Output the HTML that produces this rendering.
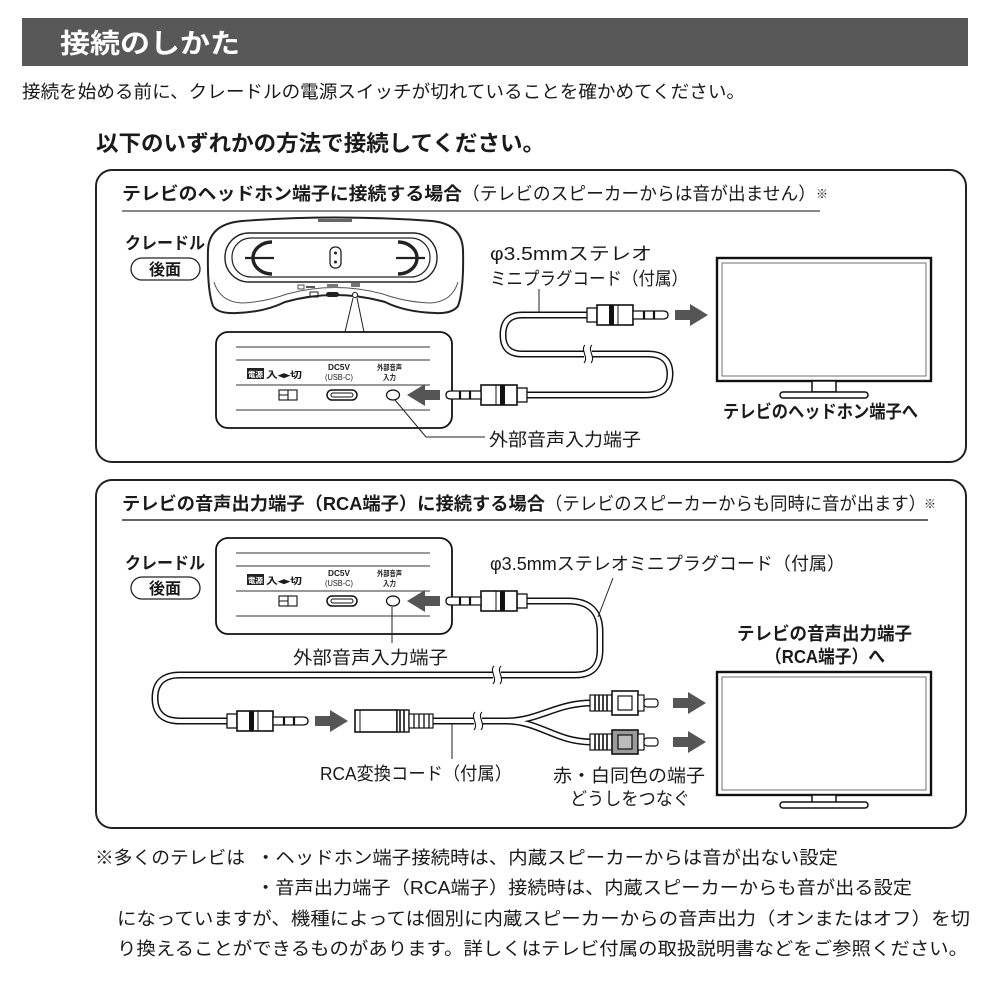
<!DOCTYPE html>
<html lang="ja">
<head>
<meta charset="utf-8">
<style>
  html,body{margin:0;padding:0;background:#fff;}
  svg{display:block;}
  text{font-family:"Liberation Sans","Noto Sans CJK JP",sans-serif;fill:#1a1a1a;}
  .b{font-weight:bold;}
</style>
</head>
<body>
<svg width="1000" height="1000" viewBox="0 0 1000 1000" xmlns="http://www.w3.org/2000/svg">
  <defs>
    <g id="p35">
      <rect x="0" y="-7" width="10" height="14" fill="#fff" stroke="#111" stroke-width="1.3"/>
      <rect x="10" y="-10" width="36" height="20" fill="#fff" stroke="#111" stroke-width="1.6"/>
      <rect x="22" y="-10" width="5" height="20" fill="#111"/>
      <line x1="31" y1="-10" x2="31" y2="10" stroke="#111" stroke-width="1"/>
      <path d="M46,-4 H76 Q81,-4 81,0 Q81,4 76,4 H46 Z" fill="#fff" stroke="#111" stroke-width="1.3"/>
      <line x1="57" y1="-4" x2="57" y2="4" stroke="#111" stroke-width="2.2"/>
      <line x1="67" y1="-4" x2="67" y2="4" stroke="#111" stroke-width="2.2"/>
    </g>
    <path id="arr" d="M0,-5 H15 V-11 L33,0 L15,11 V5 H0 Z" fill="#555"/>
    <g id="rcaW">
      <rect x="0" y="-8" width="22" height="16" fill="#fff" stroke="#111" stroke-width="1.2"/>
      <line x1="5" y1="-8" x2="5" y2="8" stroke="#111" stroke-width="1.6"/>
      <line x1="9" y1="-8" x2="9" y2="8" stroke="#111" stroke-width="1.6"/>
      <line x1="13" y1="-8" x2="13" y2="8" stroke="#111" stroke-width="1.6"/>
      <line x1="17" y1="-8" x2="17" y2="8" stroke="#111" stroke-width="1.6"/>
      <rect x="22" y="-12" width="26" height="24" fill="#fff" stroke="#111" stroke-width="1.6"/>
      <rect x="28" y="-7" width="14" height="14" fill="none" stroke="#111" stroke-width="1.2"/>
      <rect x="48" y="-8" width="6" height="16" fill="#fff" stroke="#111" stroke-width="1.2"/>
      <rect x="54" y="-4" width="14" height="8" rx="3" fill="#fff" stroke="#111" stroke-width="1.2"/>
    </g>
    <g id="rcaR">
      <rect x="0" y="-8" width="22" height="16" fill="#fff" stroke="#111" stroke-width="1.2"/>
      <line x1="5" y1="-8" x2="5" y2="8" stroke="#111" stroke-width="1.6"/>
      <line x1="9" y1="-8" x2="9" y2="8" stroke="#111" stroke-width="1.6"/>
      <line x1="13" y1="-8" x2="13" y2="8" stroke="#111" stroke-width="1.6"/>
      <line x1="17" y1="-8" x2="17" y2="8" stroke="#111" stroke-width="1.6"/>
      <rect x="22" y="-12" width="26" height="24" fill="#9a9a9a" stroke="#111" stroke-width="1.6"/>
      <rect x="28" y="-7" width="14" height="14" fill="#bbb" stroke="#111" stroke-width="1.2"/>
      <rect x="48" y="-8" width="6" height="16" fill="#fff" stroke="#111" stroke-width="1.2"/>
      <rect x="54" y="-4" width="14" height="8" rx="3" fill="#fff" stroke="#111" stroke-width="1.2"/>
    </g>
    <g id="callout">
      <rect x="216" y="332" width="236" height="96" rx="12" fill="#fff" stroke="#111" stroke-width="1.8"/>
      <line x1="236" y1="347" x2="430" y2="347" stroke="#333" stroke-width="1"/>
      <line x1="236" y1="360" x2="430" y2="360" stroke="#333" stroke-width="1"/>
      <line x1="236" y1="385" x2="430" y2="385" stroke="#333" stroke-width="1"/>
      <line x1="236" y1="410" x2="430" y2="410" stroke="#333" stroke-width="1"/>
      <rect x="247" y="368" width="17" height="11" fill="#222"/>
      <text x="248" y="377" font-size="7.5" class="b" style="fill:#fff" textLength="15" lengthAdjust="spacingAndGlyphs">電源</text>
      <text x="266" y="378" font-size="9" class="b" textLength="36" lengthAdjust="spacingAndGlyphs">入◂▸切</text>
      <text x="328" y="370" font-size="8" class="b" textLength="22" lengthAdjust="spacingAndGlyphs">DC5V</text>
      <text x="325" y="380" font-size="8" textLength="28" lengthAdjust="spacingAndGlyphs">(USB-C)</text>
      <text x="377" y="370" font-size="7.5" class="b" textLength="25" lengthAdjust="spacingAndGlyphs">外部音声</text>
      <text x="383" y="380" font-size="7.5" class="b" textLength="13" lengthAdjust="spacingAndGlyphs">入力</text>
      <rect x="279" y="390" width="18" height="10" fill="#fff" stroke="#111" stroke-width="1.1"/>
      <line x1="288" y1="390" x2="288" y2="400" stroke="#111" stroke-width="1.1"/>
      <line x1="279" y1="395" x2="288" y2="395" stroke="#111" stroke-width="1"/>
      <rect x="327" y="390" width="30" height="10" rx="5" fill="#fff" stroke="#111" stroke-width="1.5"/>
      <rect x="331" y="393" width="22" height="4" rx="2" fill="none" stroke="#111" stroke-width="1"/>
      <ellipse cx="393" cy="395" rx="6.5" ry="5" fill="#fff" stroke="#111" stroke-width="1.3"/>
    </g>
  </defs>

  <!-- Header -->
  <rect x="22" y="18" width="946" height="48" fill="#585858"/>
  <text x="60" y="53" font-size="27" class="b" style="fill:#fff" textLength="180" lengthAdjust="spacingAndGlyphs">接続のしかた</text>
  <text x="22" y="98" font-size="18" textLength="723" lengthAdjust="spacingAndGlyphs">接続を始める前に、クレードルの電源スイッチが切れていることを確かめてください。</text>
  <text x="96" y="151" font-size="22" class="b" textLength="449" lengthAdjust="spacingAndGlyphs">以下のいずれかの方法で接続してください。</text>

  <!-- Panel 1 -->
  <rect x="96" y="170" width="870" height="292" rx="16" fill="none" stroke="#222" stroke-width="2"/>
  <text x="122" y="200" font-size="18" class="b" textLength="340" lengthAdjust="spacingAndGlyphs">テレビのヘッドホン端子に接続する場合</text>
  <text x="462" y="200" font-size="18" textLength="354" lengthAdjust="spacingAndGlyphs">（テレビのスピーカーからは音が出ません）</text>
  <text x="816" y="198" font-size="12" textLength="12" lengthAdjust="spacingAndGlyphs">※</text>
  <line x1="122" y1="211" x2="820" y2="211" stroke="#777" stroke-width="1.8"/>

  <text x="125" y="249" font-size="17" class="b" textLength="80" lengthAdjust="spacingAndGlyphs">クレードル</text>
  <rect x="131" y="258" width="69" height="22" rx="11" fill="#fff" stroke="#222" stroke-width="1.3"/>
  <text x="149" y="275" font-size="16" class="b" textLength="32" lengthAdjust="spacingAndGlyphs">後面</text>

  <!-- Cradle -->
  <path d="M242,221 Q335,214 432,221 Q462,224 463,250 Q464,290 458,306 Q452,314 435,313 Q405,312 385,302 Q335,288 285,302 Q265,312 237,313 Q218,314 213,306 Q207,290 208,250 Q209,224 242,221 Z" fill="#fff" stroke="#222" stroke-width="2"/>
  <path d="M214,282 Q220,302 242,303 Q265,302 287,294 Q335,281 383,294 Q405,302 430,303 Q452,302 458,282" fill="none" stroke="#555" stroke-width="1"/>
  <rect x="318" y="219" width="34" height="3" fill="#666"/>
  <rect x="225" y="233" width="212" height="49" rx="24" fill="#fff" stroke="#222" stroke-width="1.4"/>
  <rect x="232" y="238" width="198" height="39" rx="19" fill="#fff" stroke="#222" stroke-width="1.2"/>
  <path d="M272,242 A19,16 0 1 0 272,274" fill="none" stroke="#222" stroke-width="3.4"/>
  <line x1="245" y1="258" x2="274" y2="258" stroke="#222" stroke-width="2.2"/>
  <path d="M398,242 A19,16 0 1 1 398,274" fill="none" stroke="#222" stroke-width="3.4"/>
  <line x1="396" y1="258" x2="425" y2="258" stroke="#222" stroke-width="2.2"/>
  <rect x="330" y="247" width="11" height="21" rx="5" fill="#fff" stroke="#222" stroke-width="1.3"/>
  <circle cx="335.5" cy="253" r="1.5" fill="#222"/>
  <circle cx="335.5" cy="262" r="1.5" fill="#222"/>
  <rect x="298" y="285" width="6" height="4" fill="none" stroke="#222" stroke-width="0.8"/>
  <rect x="306" y="286" width="9" height="2" fill="#555"/>
  <rect x="327" y="284" width="11" height="4" fill="#777"/>
  <rect x="351" y="283" width="9" height="4" fill="#777"/>
  <rect x="310" y="292" width="8" height="5" fill="none" stroke="#222" stroke-width="1"/>
  <rect x="326" y="292" width="13" height="5" rx="2.5" fill="#222"/>
  <circle cx="355" cy="295" r="2.6" fill="#fff" stroke="#222" stroke-width="1"/>
  <line x1="353" y1="298" x2="345" y2="332" stroke="#222" stroke-width="1"/>
  <line x1="357" y1="298" x2="364" y2="332" stroke="#222" stroke-width="1"/>

  <use href="#callout"/>
  <use href="#arr" transform="translate(440,395) scale(-1,1)"/>

  <!-- Panel 1 cable -->
  <path d="M527,395 L645,395 Q670,395 670,374 Q670,354 648,354 L522,354 Q503,354 503,335 Q503,315 522,315 L588,315" fill="none" stroke="#111" stroke-width="7"/>
  <path d="M527,395 L645,395 Q670,395 670,374 Q670,354 648,354 L522,354 Q503,354 503,335 Q503,315 522,315 L588,315" fill="none" stroke="#fff" stroke-width="4"/>
  <rect x="584" y="347" width="8" height="14" fill="#fff"/>
  <path d="M585,345 C580,350 589,357 584,363" fill="none" stroke="#111" stroke-width="1.1"/>
  <path d="M592,345 C587,350 596,357 591,363" fill="none" stroke="#111" stroke-width="1.1"/>
  <use href="#p35" transform="translate(587,315)"/>
  <use href="#p35" transform="translate(527,395) scale(-1,1)"/>
  <use href="#arr" transform="translate(675,315)"/>
  <line x1="539" y1="289" x2="539" y2="313" stroke="#222" stroke-width="1"/>
  <text x="490" y="260" font-size="18" textLength="162" lengthAdjust="spacingAndGlyphs">φ3.5mmステレオ</text>
  <text x="490" y="285" font-size="18" textLength="198" lengthAdjust="spacingAndGlyphs">ミニプラグコード（付属）</text>

  <polyline points="395,400 426,437 485,437" fill="none" stroke="#222" stroke-width="1"/>
  <text x="489" y="446" font-size="18" textLength="152" lengthAdjust="spacingAndGlyphs">外部音声入力端子</text>

  <!-- TV 1 -->
  <rect x="717" y="258" width="214" height="123" fill="#fff" stroke="#111" stroke-width="2.4"/>
  <rect x="722" y="263" width="204" height="113" fill="none" stroke="#888" stroke-width="1.2"/>
  <rect x="812" y="381" width="24" height="11" fill="#fff" stroke="#111" stroke-width="1.5"/>
  <rect x="780" y="392" width="88" height="6" rx="3" fill="#fff" stroke="#111" stroke-width="1.5"/>
  <text x="723" y="418" font-size="18" class="b" textLength="195" lengthAdjust="spacingAndGlyphs">テレビのヘッドホン端子へ</text>

  <!-- Panel 2 -->
  <rect x="96" y="480" width="870" height="348" rx="16" fill="none" stroke="#222" stroke-width="2"/>
  <text x="122" y="510" font-size="18" class="b" textLength="423" lengthAdjust="spacingAndGlyphs">テレビの音声出力端子（RCA端子）に接続する場合</text>
  <text x="545" y="510" font-size="18" textLength="381" lengthAdjust="spacingAndGlyphs">（テレビのスピーカーからも同時に音が出ます）</text>
  <text x="924" y="508" font-size="12" textLength="12" lengthAdjust="spacingAndGlyphs">※</text>
  <line x1="122" y1="520" x2="928" y2="520" stroke="#333" stroke-width="1.5"/>

  <text x="125" y="569" font-size="17" class="b" textLength="80" lengthAdjust="spacingAndGlyphs">クレードル</text>
  <rect x="131" y="577" width="69" height="22" rx="11" fill="#fff" stroke="#222" stroke-width="1.3"/>
  <text x="149" y="594" font-size="16" class="b" textLength="32" lengthAdjust="spacingAndGlyphs">後面</text>

  <use href="#callout" transform="translate(0,206)"/>
  <use href="#arr" transform="translate(440,601) scale(-1,1)"/>
  <line x1="392" y1="607" x2="392" y2="643" stroke="#222" stroke-width="1"/>
  <text x="293" y="664" font-size="18" textLength="155" lengthAdjust="spacingAndGlyphs">外部音声入力端子</text>

  <!-- Panel 2 cable -->
  <path d="M527,601 L568,601 Q600,601 600,632 L600,650 Q600,675 575,675 L180,675 Q155,675 155,698 Q155,721 180,721 L228,721" fill="none" stroke="#111" stroke-width="7"/>
  <path d="M527,601 L568,601 Q600,601 600,632 L600,650 Q600,675 575,675 L180,675 Q155,675 155,698 Q155,721 180,721 L228,721" fill="none" stroke="#fff" stroke-width="4"/>
  <rect x="493" y="668" width="8" height="14" fill="#fff"/>
  <path d="M494,666 C489,671 498,678 493,684" fill="none" stroke="#111" stroke-width="1.1"/>
  <path d="M501,666 C496,671 505,678 500,684" fill="none" stroke="#111" stroke-width="1.1"/>
  <use href="#p35" transform="translate(527,601) scale(-1,1)"/>
  <use href="#p35" transform="translate(227,721)"/>
  <use href="#arr" transform="translate(315,721)"/>
  <line x1="613" y1="578" x2="598" y2="617" stroke="#222" stroke-width="1"/>
  <text x="490" y="570" font-size="18" textLength="355" lengthAdjust="spacingAndGlyphs">φ3.5mmステレオミニプラグコード（付属）</text>

  <!-- RCA adapter cable -->
  <path d="M432,721 L505,721 C540,721 555,703 592,703 M505,721 C540,721 555,742 592,742" fill="none" stroke="#111" stroke-width="7"/>
  <path d="M432,721 L505,721 C540,721 555,703 592,703 M505,721 C540,721 555,742 592,742" fill="none" stroke="#fff" stroke-width="4"/>
  <rect x="474" y="714" width="8" height="14" fill="#fff"/>
  <path d="M475,712 C470,717 479,724 474,730" fill="none" stroke="#111" stroke-width="1.1"/>
  <path d="M482,712 C477,717 486,724 481,730" fill="none" stroke="#111" stroke-width="1.1"/>
  <!-- adapter body -->
  <rect x="355" y="710" width="42" height="22" fill="#fff" stroke="#111" stroke-width="1.6"/>
  <line x1="360" y1="710" x2="360" y2="732" stroke="#111" stroke-width="1"/>
  <rect x="397" y="710" width="12" height="22" fill="#fff" stroke="#111" stroke-width="1.4"/>
  <line x1="400" y1="710" x2="400" y2="732" stroke="#111" stroke-width="1.6"/>
  <line x1="404" y1="710" x2="404" y2="732" stroke="#111" stroke-width="1.6"/>
  <rect x="409" y="714" width="24" height="14" fill="#fff" stroke="#111" stroke-width="1.2"/>
  <line x1="414" y1="714" x2="414" y2="728" stroke="#111" stroke-width="1.3"/>
  <line x1="419" y1="714" x2="419" y2="728" stroke="#111" stroke-width="1.3"/>
  <line x1="424" y1="714" x2="424" y2="728" stroke="#111" stroke-width="1.3"/>
  <line x1="429" y1="714" x2="429" y2="728" stroke="#111" stroke-width="1.3"/>
  <use href="#rcaW" transform="translate(590,703)"/>
  <use href="#rcaR" transform="translate(590,742)"/>
  <use href="#arr" transform="translate(673,703)"/>
  <use href="#arr" transform="translate(673,742)"/>
  <line x1="452" y1="724" x2="452" y2="759" stroke="#222" stroke-width="1"/>
  <text x="320" y="780" font-size="18" textLength="192" lengthAdjust="spacingAndGlyphs">RCA変換コード（付属）</text>
  <text x="553" y="782" font-size="18" textLength="152" lengthAdjust="spacingAndGlyphs">赤・白同色の端子</text>
  <text x="570" y="805" font-size="18" textLength="120" lengthAdjust="spacingAndGlyphs">どうしをつなぐ</text>

  <!-- TV 2 -->
  <text x="737" y="640" font-size="18" class="b" textLength="175" lengthAdjust="spacingAndGlyphs">テレビの音声出力端子</text>
  <text x="765" y="663" font-size="18" class="b" textLength="120" lengthAdjust="spacingAndGlyphs">（RCA端子）へ</text>
  <rect x="717" y="672" width="214" height="123" fill="#fff" stroke="#111" stroke-width="2.4"/>
  <rect x="722" y="677" width="204" height="113" fill="none" stroke="#888" stroke-width="1.2"/>
  <rect x="812" y="795" width="24" height="8" fill="#fff" stroke="#111" stroke-width="1.5"/>
  <rect x="780" y="802" width="88" height="6" rx="3" fill="#fff" stroke="#111" stroke-width="1.5"/>

  <!-- Footnotes -->
  <text x="95" y="864" font-size="18" textLength="150" lengthAdjust="spacingAndGlyphs">※多くのテレビは</text>
  <text x="256" y="864" font-size="18" textLength="582" lengthAdjust="spacingAndGlyphs">・ヘッドホン端子接続時は、内蔵スピーカーからは音が出ない設定</text>
  <text x="256" y="894" font-size="18" textLength="656" lengthAdjust="spacingAndGlyphs">・音声出力端子（RCA端子）接続時は、内蔵スピーカーからも音が出る設定</text>
  <text x="117" y="925" font-size="18" textLength="853" lengthAdjust="spacingAndGlyphs">になっていますが、機種によっては個別に内蔵スピーカーからの音声出力（オンまたはオフ）を切</text>
  <text x="117" y="955" font-size="18" textLength="851" lengthAdjust="spacingAndGlyphs">り換えることができるものがあります。詳しくはテレビ付属の取扱説明書などをご参照ください。</text>
</svg>
</body>
</html>
